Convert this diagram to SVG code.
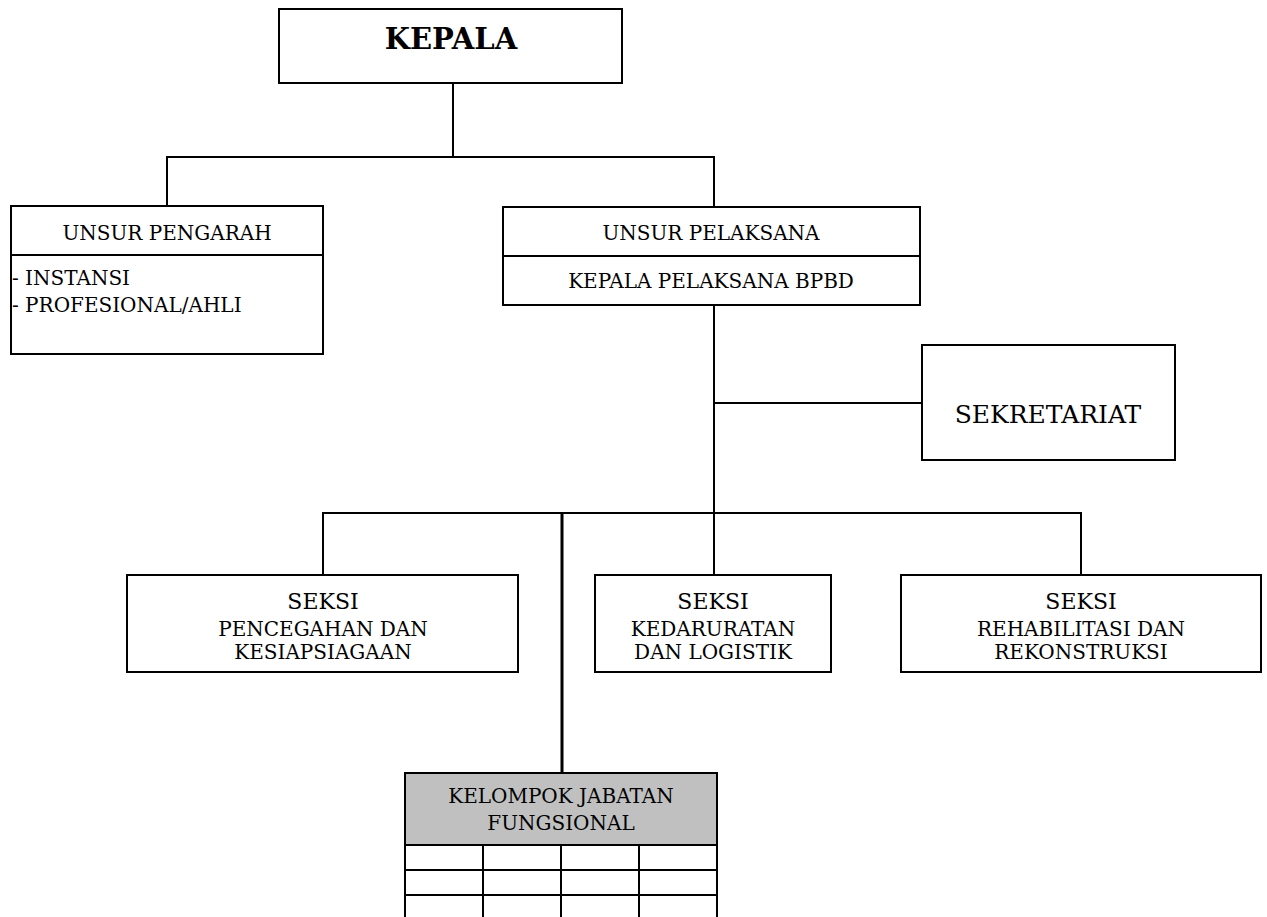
<svg xmlns="http://www.w3.org/2000/svg" width="1267" height="917" viewBox="0 0 1267 917">
<style>
.box{fill:#fff;stroke:#000;stroke-width:2}
.gray{fill:#c0c0c0;stroke:#000;stroke-width:2}
.ln{stroke:#000;stroke-width:2;fill:none}
.t{font-family:"DejaVu Serif","Liberation Serif",serif;fill:#000;font-size:20px}
.c{text-anchor:middle}
.s{font-size:22px}
</style>
<rect width="1267" height="917" fill="#fff"/>
<g id="connectors">
<line class="ln" x1="453" y1="83" x2="453" y2="157"/>
<line class="ln" x1="166" y1="157" x2="715" y2="157"/>
<line class="ln" x1="167" y1="157" x2="167" y2="206"/>
<line class="ln" x1="714" y1="157" x2="714" y2="207"/>
<line class="ln" x1="714" y1="305" x2="714" y2="575"/>
<line class="ln" x1="714" y1="403" x2="922" y2="403"/>
<line class="ln" x1="322" y1="513" x2="1082" y2="513"/>
<line class="ln" x1="323" y1="513" x2="323" y2="575"/>
<line class="ln" x1="1081" y1="513" x2="1081" y2="575"/>
<line class="ln" x1="562" y1="513" x2="562" y2="773" style="stroke-width:3"/>
</g>
<g id="kepala">
<rect class="box" x="279" y="9" width="343" height="74"/>
<text class="t c" x="451" y="49" style="font-size:29px;font-weight:bold">KEPALA</text>
</g>
<g id="unsur-pengarah">
<rect class="box" x="11" y="206" width="312" height="148"/>
<line class="ln" x1="11" y1="255" x2="323" y2="255"/>
<text class="t c" x="167" y="240">UNSUR PENGARAH</text>
<text class="t" x="12" y="285">- INSTANSI</text>
<text class="t" x="12" y="312">- PROFESIONAL/AHLI</text>
</g>
<g id="unsur-pelaksana">
<rect class="box" x="503" y="207" width="417" height="98"/>
<line class="ln" x1="503" y1="256" x2="920" y2="256"/>
<text class="t c" x="711" y="240">UNSUR PELAKSANA</text>
<text class="t c" x="711" y="288">KEPALA PELAKSANA BPBD</text>
</g>
<g id="sekretariat">
<rect class="box" x="922" y="345" width="253" height="115"/>
<text class="t c" x="1048" y="423" style="font-size:25px">SEKRETARIAT</text>
</g>
<g id="seksi-pencegahan">
<rect class="box" x="127" y="575" width="391" height="97"/>
<text class="t c s" x="323" y="609">SEKSI</text>
<text class="t c" x="323" y="636">PENCEGAHAN DAN</text>
<text class="t c" x="323" y="659">KESIAPSIAGAAN</text>
</g>
<g id="seksi-kedaruratan">
<rect class="box" x="595" y="575" width="236" height="97"/>
<text class="t c s" x="713" y="609">SEKSI</text>
<text class="t c" x="713" y="636">KEDARURATAN</text>
<text class="t c" x="713" y="659">DAN LOGISTIK</text>
</g>
<g id="seksi-rehabilitasi">
<rect class="box" x="901" y="575" width="360" height="97"/>
<text class="t c s" x="1081" y="609">SEKSI</text>
<text class="t c" x="1081" y="636">REHABILITASI DAN</text>
<text class="t c" x="1081" y="659">REKONSTRUKSI</text>
</g>
<g id="kelompok-jabatan">
<rect class="gray" x="405" y="773" width="312" height="72"/>
<text class="t c" x="561" y="803">KELOMPOK JABATAN</text>
<text class="t c" x="561" y="830">FUNGSIONAL</text>
<path class="ln" d="M405 845V918M717 845V918M483 845V918M561 845V918M639 845V918M405 870H717M405 895H717"/>
</g>
</svg>
